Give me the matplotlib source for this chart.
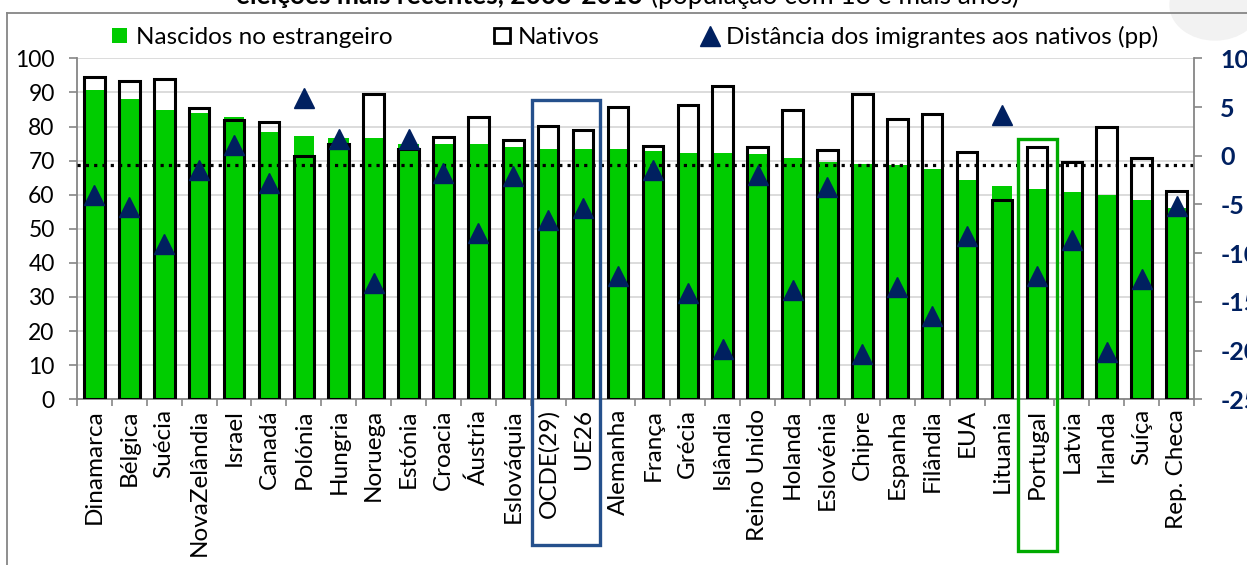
import matplotlib.pyplot as plt
import matplotlib.transforms as mtransforms
from matplotlib.patches import Rectangle, Ellipse
from matplotlib.lines import Line2D

plt.rcParams['font.family'] = ['Lato', 'DejaVu Sans']

cats = ['Dinamarca', 'Bélgica', 'Suécia', 'NovaZelândia', 'Israel', 'Canadá', 'Polónia',
        'Hungria', 'Noruega', 'Estónia', 'Croacia', 'Áustria', 'Eslováquia', 'OCDE(29)',
        'UE26', 'Alemanha', 'França', 'Grécia', 'Islândia', 'Reino Unido', 'Holanda',
        'Eslovénia', 'Chipre', 'Espanha', 'Filândia', 'EUA', 'Lituania', 'Portugal',
        'Latvia', 'Irlanda', 'Suíça', 'Rep. Checa']
foreign = [90.7, 88.1, 84.8, 83.9, 82.9, 78.5, 77.3, 76.6, 76.5, 75.0, 74.9, 74.9, 74.0,
           73.5, 73.5, 73.3, 72.9, 72.1, 72.1, 71.8, 70.9, 69.7, 69.0, 68.7, 67.5, 64.3,
           62.6, 61.6, 60.7, 59.9, 58.3, 56.0]
natives = [94.6, 93.3, 93.9, 85.3, 81.9, 81.4, 71.3, 74.9, 89.5, 73.3, 76.8, 82.9, 76.1,
           80.1, 79.0, 85.6, 74.3, 86.3, 92.0, 73.9, 84.8, 73.0, 89.5, 82.1, 83.8, 72.6,
           58.5, 73.9, 69.5, 79.9, 70.8, 61.1]
gap = [-4.0, -5.3, -9.1, -1.5, 1.1, -2.8, 5.9, 1.7, -13.1, 1.7, -1.8, -7.9, -2.1, -6.6,
       -5.4, -12.3, -1.5, -14.1, -19.8, -2.0, -13.8, -3.2, -20.4, -13.5, -16.4, -8.2,
       4.2, -12.3, -8.7, -20.1, -12.7, -5.2]
ref_line = 68.8
left_ticks = list(range(0, 101, 10))
right_ticks = list(range(-25, 11, 5))

GREEN = '#00CC00'
NAVY = '#002060'
GRAY = '#868686'

fig = plt.figure(figsize=(12.47, 5.65), dpi=100)
ax = fig.add_axes([0.0617, 0.2933, 0.8958, 0.6035])
x = list(range(len(cats)))

ax.bar(x, foreign, width=0.59, color=GREEN, zorder=2)
ax.bar(x, natives, width=0.59, facecolor='none', edgecolor='black', linewidth=2.2, zorder=3)
ax.axhline(ref_line, color='black', linestyle=(0, (1, 1.6)), linewidth=2.3, zorder=4)

ax.set_xlim(-0.5, len(cats) - 0.5)
ax.set_ylim(0, 100)
ax.set_yticks(left_ticks)
ax.yaxis.grid(True, color='#D9D9D9', linewidth=1.3)
ax.set_axisbelow(True)
ax.set_xticks(x)
ax.set_xticklabels(cats, rotation=90, fontsize=17.5)
ax.set_xticks([i - 0.5 for i in range(len(cats) + 1)], minor=True)
ax.tick_params(axis='x', which='major', length=0, pad=7)
ax.tick_params(axis='x', which='minor', length=5, color=GRAY, width=1.2)
ax.tick_params(axis='y', length=6, color=GRAY, width=1.2, labelsize=16.5, pad=10)
for s in ['top', 'right']:
    ax.spines[s].set_visible(False)
for s in ['left', 'bottom']:
    ax.spines[s].set_color(GRAY)
    ax.spines[s].set_linewidth(1.3)

ax2 = ax.twinx()
ax2.plot(x, gap, linestyle='none', marker='^', markersize=15, color=NAVY, zorder=5)
ax2.set_ylim(-25, 10)
ax2.set_yticks(right_ticks, labels=[str(t) for t in right_ticks], fontweight='bold',
               fontsize=18, color=NAVY)
ax2.tick_params(axis='y', length=6, color=GRAY, width=1.2, pad=13)
for s in ['top', 'left', 'bottom']:
    ax2.spines[s].set_visible(False)
ax2.spines['right'].set_color(GRAY)
ax2.spines['right'].set_linewidth(1.3)

# highlight boxes
trans = mtransforms.blended_transform_factory(ax.transData, ax.transAxes)
i = cats.index('OCDE(29)')
ax.add_patch(Rectangle((i - 0.46, -0.427), 1.95, 1.305, transform=trans, fill=False,
                       edgecolor='#25508C', linewidth=2.4, clip_on=False, zorder=6))
i = cats.index('Portugal')
ax.add_patch(Rectangle((i - 0.54, -0.444), 1.12, 1.207, transform=trans, fill=False,
                       edgecolor='#00AA00', linewidth=2.4, clip_on=False, zorder=6))

handles = [Rectangle((0, 0), 1, 1, facecolor=GREEN, edgecolor='none'),
           Rectangle((0, 0), 1, 1, facecolor='white', edgecolor='black', linewidth=2),
           Line2D([], [], linestyle='none', marker='^', markersize=14, color=NAVY)]
fig.legend(handles, ['Nascidos no estrangeiro', 'Nativos', 'Distância dos imigrantes aos nativos (pp)'],
           loc='center', bbox_to_anchor=(635 / 1247, 1 - 37 / 565), ncol=3, frameon=False,
           fontsize=17.5, handlelength=0.62, handleheight=0.62, handletextpad=0.35,
           columnspacing=4.2)

# title cut at the top edge
fig.text(643 / 1247, 1 - 4 / 565, 'eleições mais recentes, 2008-2016', ha='right',
         va='baseline', fontsize=19, fontweight='bold')
fig.text(651 / 1247, 1 - 4 / 565, '(população com 18 e mais anos)', ha='left',
         va='baseline', fontsize=19)

# outer chart frame and faint watermark
fig.add_artist(Line2D([7 / 1247, 1], [1 - 12.7 / 565, 1 - 12.7 / 565], color=GRAY, linewidth=1.3))
fig.add_artist(Line2D([7 / 1247, 7 / 1247], [0, 1 - 12.7 / 565], color=GRAY, linewidth=1.3))
fig.add_artist(Ellipse((1215 / 1247, 1 - 5 / 565), 90 / 1247, 70 / 565, color='#F2F2F2',
                       zorder=-1))

fig.savefig('out.png', dpi=100)
